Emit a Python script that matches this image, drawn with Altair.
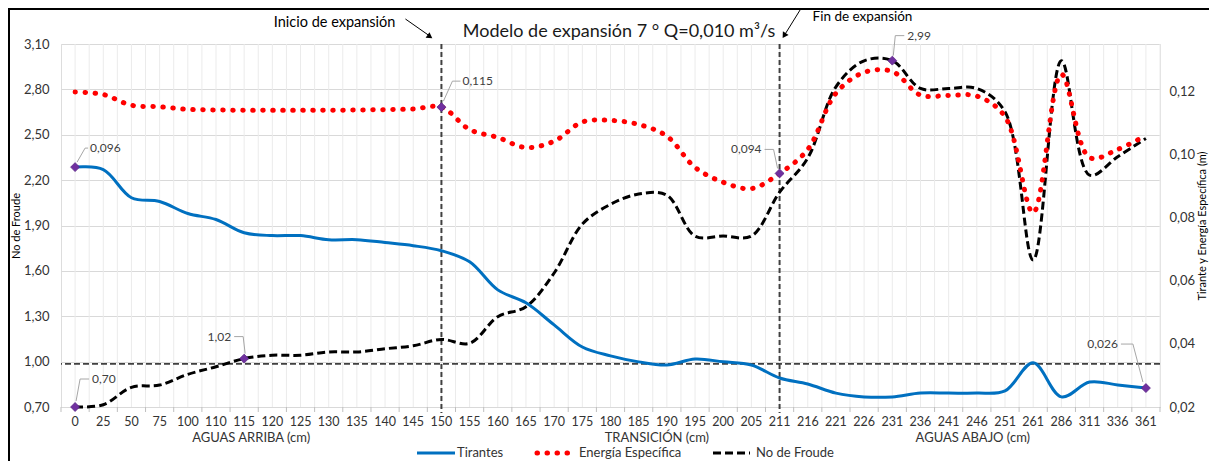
import altair as alt
import pandas as pd

# ---------------- data ----------------
cats = ["0", "25", "50", "75", "100", "110", "115", "120", "125", "130", "135", "140", "145",
        "150", "155", "160", "165", "170", "175", "180", "185", "190", "195", "200", "205",
        "211", "216", "221", "226", "231", "236", "241", "246", "251", "261", "286", "311", "336", "361"]

tirantes = [0.096, 0.0952, 0.0863, 0.0851, 0.0813, 0.0794, 0.0752, 0.0743, 0.0743, 0.0730, 0.0730,
            0.0721, 0.0711, 0.0695, 0.0660, 0.0571, 0.0530, 0.0460, 0.0390, 0.0362, 0.0343, 0.0333,
            0.0352, 0.0343, 0.0333, 0.0292, 0.0273, 0.0244, 0.0232, 0.0232, 0.0244, 0.0244, 0.0244,
            0.0251, 0.0340, 0.0232, 0.0279, 0.0270, 0.0260]

energia = [0.1198, 0.1190, 0.1156, 0.1151, 0.1143, 0.1141, 0.1140, 0.1140, 0.1140, 0.1140, 0.1141,
           0.1142, 0.1144, 0.1150, 0.1079, 0.1054, 0.1022, 0.1042, 0.1103, 0.1108, 0.1095, 0.1058,
           0.0959, 0.0912, 0.0892, 0.0940, 0.1016, 0.1194, 0.1260, 0.1263, 0.1188, 0.1187, 0.1185,
           0.1120, 0.0816, 0.1254, 0.0990, 0.1016, 0.1060]

froude = [0.70, 0.715, 0.83, 0.845, 0.916, 0.966, 1.02, 1.042, 1.042, 1.064, 1.064, 1.085, 1.105,
          1.147, 1.121, 1.297, 1.363, 1.586, 1.909, 2.04, 2.108, 2.10, 1.83, 1.83, 1.83, 2.12,
          2.346, 2.817, 2.989, 2.99, 2.806, 2.806, 2.806, 2.652, 1.672, 2.99, 2.233, 2.354, 2.476]

froude_ticks = [0.7, 1.0, 1.3, 1.6, 1.9, 2.2, 2.5, 2.8, 3.1]
right_ticks = [0.02, 0.04, 0.06, 0.08, 0.10, 0.12]
critical_fr = [0.985]
expansion_cats = ["150", "211"]

ann_series = ["tirantes", "energia", "energia", "froude", "froude", "froude", "tirantes"]
ann_cats = ["0", "150", "211", "231", "0", "115", "361"]
ann_labels = ["0,096", "0,115", "0,094", "2,99", "0,70", "1,02", "0,026"]

group_titles = ["AGUAS ARRIBA (cm)", "TRANSICIÓN (cm)", "AGUAS ABAJO (cm)"]
group_anchor = ["115", "190", "246"]
legend_names = ["Tirantes", "Energía Específica", "No de Froude"]

title_text = "Modelo de expansión 7 ° Q=0,010 m³/s"
inicio_text = "Inicio de expansión"
fin_text = "Fin de expansión"

# ---------------- layout / style ----------------
W, H = 1099, 363
HALF = W / len(cats) / 2
FONT = "Lato"
BLUE, RED, PURPLE = "#0070C0", "#FF0000", "#7030A0"
INTERP = "catmull-rom"

# label layout: (dx, dy, align, leader offsets)
ann_layout = [
    (15, -19, "left", [(2, -5), (10, -19), (13, -19)]),
    (21, -26, "left", [(2, -6), (11, -26), (19, -26)]),
    (-18, -24, "right", [(-2, -5), (-6, -24), (-15, -24)]),
    (15, -25, "left", [(1, -5), (3, -25), (12, -25)]),
    (17, -28, "left", [(1, -6), (5, -28), (14, -28)]),
    (-13, -22, "right", [(1, -5), (-1, -22), (-10, -22)]),
    (-28, -44, "right", [(-3, -6), (-13, -44), (-25, -44)]),
]
group_dx = [7, -10, -4]

series_arr = {"tirantes": tirantes, "energia": energia, "froude": froude}
df = pd.DataFrame({"cat": cats, "tirantes": tirantes, "energia": energia, "froude": froude})
cdf = pd.DataFrame({"cat": cats})

xscale = alt.Scale(type="band", domain=cats, paddingInner=0, paddingOuter=0)

comma = "replace(format(datum.value, '.2f'), '.', ',')"
left_axis = alt.Axis(orient="left", values=froude_ticks, labelExpr=comma, title="No de Froude",
                     titleFontSize=11, titleFontWeight="normal", titleFont=FONT, titleColor="#000000",
                     titlePadding=2, labelFontSize=13, labelFont=FONT, labelColor="#333333",
                     labelPadding=12, ticks=False, domain=False, grid=True, gridColor="#D9D9D9")
right_axis = alt.Axis(orient="right", values=right_ticks, labelExpr=comma,
                      title="Tirante y Energía Específica (m)", titleAngle=270, titleBaseline="top",
                      titleFontSize=11, titleFontWeight="normal", titleFont=FONT,
                      titleColor="#000000", titlePadding=2, labelFontSize=13, labelFont=FONT,
                      labelColor="#333333", labelPadding=9, ticks=False, domain=False, grid=False)


def yL(field, axis=None):
    return alt.Y(field, scale=alt.Scale(domain=[0.7, 3.1], nice=False, zero=False), axis=axis)


def yR(field, axis=None):
    return alt.Y(field, scale=alt.Scale(domain=[0.02, 0.135], nice=False, zero=False), axis=axis)


def X():
    return alt.X("cat:N", scale=xscale, bandPosition=0.5, axis=None)


def X2():
    return alt.X2("cat:N", bandPosition=0.5)


layers = []

# vertical grid lines at the category centres and at the category boundaries
layers.append(alt.Chart(cdf).mark_rule(color="#EBEBEB", strokeWidth=1).encode(x=X()))
layers.append(alt.Chart(cdf).mark_rule(color="#EBEBEB", strokeWidth=1, xOffset=HALF).encode(x=X()))
# boundary tick marks below the axis
layers.append(
    alt.Chart(cdf).mark_rule(color="#BFBFBF", strokeWidth=1, xOffset=HALF)
    .encode(x=X(), y=alt.value(H), y2=alt.value(H + 5))
)
layers.append(
    alt.Chart(pd.DataFrame({"cat": cats[:1]})).mark_rule(color="#BFBFBF", strokeWidth=1,
                                                         xOffset=-HALF)
    .encode(x=X(), y=alt.value(H), y2=alt.value(H + 5))
)
# x category labels
layers.append(
    alt.Chart(cdf).mark_text(align="center", baseline="middle", fontSize=12.5, font=FONT,
                             color="#333333")
    .encode(x=X(), y=alt.value(H + 15), text="cat:N")
)
layers.append(
    alt.Chart(pd.DataFrame({"fr": critical_fr})).mark_rule(color="#404040", strokeWidth=1.8,
                                                           strokeDash=[6, 3])
    .encode(y=yL("fr:Q"))
)
layers.append(
    alt.Chart(pd.DataFrame({"cat": expansion_cats})).mark_rule(color="#404040", strokeWidth=2,
                                                               strokeDash=[5, 3])
    .encode(x=X(), y=alt.value(0), y2=alt.value(H + 6))
)
layers.append(
    alt.Chart(df).mark_line(color="black", strokeWidth=3, strokeDash=[8, 4], interpolate=INTERP)
    .encode(x=X(), y=yL("froude:Q", left_axis))
)
layers.append(
    alt.Chart(df).mark_line(color=BLUE, strokeWidth=3, interpolate=INTERP)
    .encode(x=X(), y=yR("tirantes:Q", right_axis))
)
layers.append(
    alt.Chart(df).mark_line(color=RED, strokeWidth=5, strokeDash=[0.5, 9.5], strokeCap="round",
                            interpolate=INTERP)
    .encode(x=X(), y=yR("energia:Q"))
)

# annotations (markers, leader lines, labels)
for s, c, lab, (dx, dy, al, pts) in zip(ann_series, ann_cats, ann_labels, ann_layout):
    val = series_arr[s][cats.index(c)]
    adf = pd.DataFrame({"cat": [c], "v": [val], "label": [lab]})
    yf = yL if s == "froude" else yR
    for (ax, ay), (bx, by) in zip(pts[:-1], pts[1:]):
        layers.append(
            alt.Chart(adf).mark_rule(color="#A6A6A6", strokeWidth=1, xOffset=ax, yOffset=ay,
                                     x2Offset=bx, y2Offset=by)
            .encode(x=X(), x2=X2(), y=yf("v:Q"), y2=alt.Y2("v:Q"))
        )
    layers.append(
        alt.Chart(adf).mark_point(shape="diamond", filled=True, size=80, color=PURPLE, opacity=1,
                                  stroke="#5B2585", strokeWidth=0.8)
        .encode(x=X(), y=yf("v:Q"))
    )
    layers.append(
        alt.Chart(adf).mark_text(align=al, baseline="middle", dx=dx, dy=dy, fontSize=12, font=FONT,
                                 color="#404040")
        .encode(x=X(), y=yf("v:Q"), text="label:N")
    )

# expansion annotations with arrows
ini = pd.DataFrame({"cat": ["150"], "t": [inicio_text]})
fin = pd.DataFrame({"cat": ["211"], "t": [fin_text]})
layers += [
    alt.Chart(ini).mark_text(align="right", baseline="middle", dx=-46, fontSize=14.5, font=FONT,
                             color="#000000")
    .encode(x=X(), y=alt.value(-21), text="t:N"),
    alt.Chart(ini).mark_rule(color="#000000", strokeWidth=1, xOffset=-36, x2Offset=-11)
    .encode(x=X(), x2=X2(), y=alt.value(-25), y2=alt.value(-7.5)),
    alt.Chart(ini).mark_point(shape="triangle-right", filled=True, size=45, color="#000000",
                              opacity=1, angle=35, xOffset=-11.5)
    .encode(x=X(), y=alt.value(-7.3)),
    alt.Chart(fin).mark_text(align="left", baseline="middle", dx=33, fontSize=13.5, font=FONT,
                             color="#000000")
    .encode(x=X(), y=alt.value(-27.5), text="t:N"),
    alt.Chart(fin).mark_rule(color="#000000", strokeWidth=1, xOffset=20.5, x2Offset=5)
    .encode(x=X(), x2=X2(), y=alt.value(-34), y2=alt.value(-9)),
    alt.Chart(fin).mark_point(shape="triangle-right", filled=True, size=45, color="#000000",
                              opacity=1, angle=122, xOffset=4.6)
    .encode(x=X(), y=alt.value(-8.4)),
]

# chart title
layers.append(
    alt.Chart(pd.DataFrame({"t": [title_text]})).mark_text(align="center", baseline="middle",
                                                           fontSize=18, font=FONT, color="#1A1A1A")
    .encode(x=alt.value(W / 2 + 8.5), y=alt.value(-12), text="t:N")
)

# group titles under the x axis
for gt, ga, gdx in zip(group_titles, group_anchor, group_dx):
    layers.append(
        alt.Chart(pd.DataFrame({"cat": [ga], "t": [gt]})).mark_text(
            align="center", baseline="middle", dx=gdx, fontSize=13, font=FONT, color="#333333")
        .encode(x=X(), y=alt.value(H + 31), text="t:N")
    )

# legend
LY = H + 46
leg = [
    (356, 394, 396, {"color": BLUE, "strokeWidth": 3}),
    (476, 512, 518, {"color": RED, "strokeWidth": 5, "strokeDash": [0.5, 9.5], "strokeCap": "round"}),
    (652, 689, 695, {"color": "black", "strokeWidth": 3, "strokeDash": [8, 4]}),
]
for name, (a, b, tx, sty) in zip(legend_names, leg):
    ldf = pd.DataFrame({"t": [name]})
    layers.append(
        alt.Chart(ldf).mark_rule(**sty).encode(x=alt.value(a), x2=alt.value(b), y=alt.value(LY))
    )
    layers.append(
        alt.Chart(ldf).mark_text(align="left", baseline="middle", fontSize=13, font=FONT,
                                 color="#333333")
        .encode(x=alt.value(tx), y=alt.value(LY), text="t:N")
    )

# chart border
layers.append(
    alt.Chart(pd.DataFrame({"t": ["border"]})).mark_rect(fillOpacity=0, stroke="#000000",
                                                         strokeWidth=2)
    .encode(x=alt.value(-52), x2=alt.value(W + 60), y=alt.value(-35), y2=alt.value(H + 80))
)

chart = (
    alt.layer(*layers)
    .resolve_scale(y="independent")
    .properties(width=W, height=H,
                padding={"left": 53, "top": 36, "right": 49, "bottom": 54},
                autosize=alt.AutoSizeParams(type="none"))
    .configure_view(strokeWidth=0)
    .configure(background="white")
)

chart.save("out.html", embed_options={"renderer": "svg", "actions": False})
